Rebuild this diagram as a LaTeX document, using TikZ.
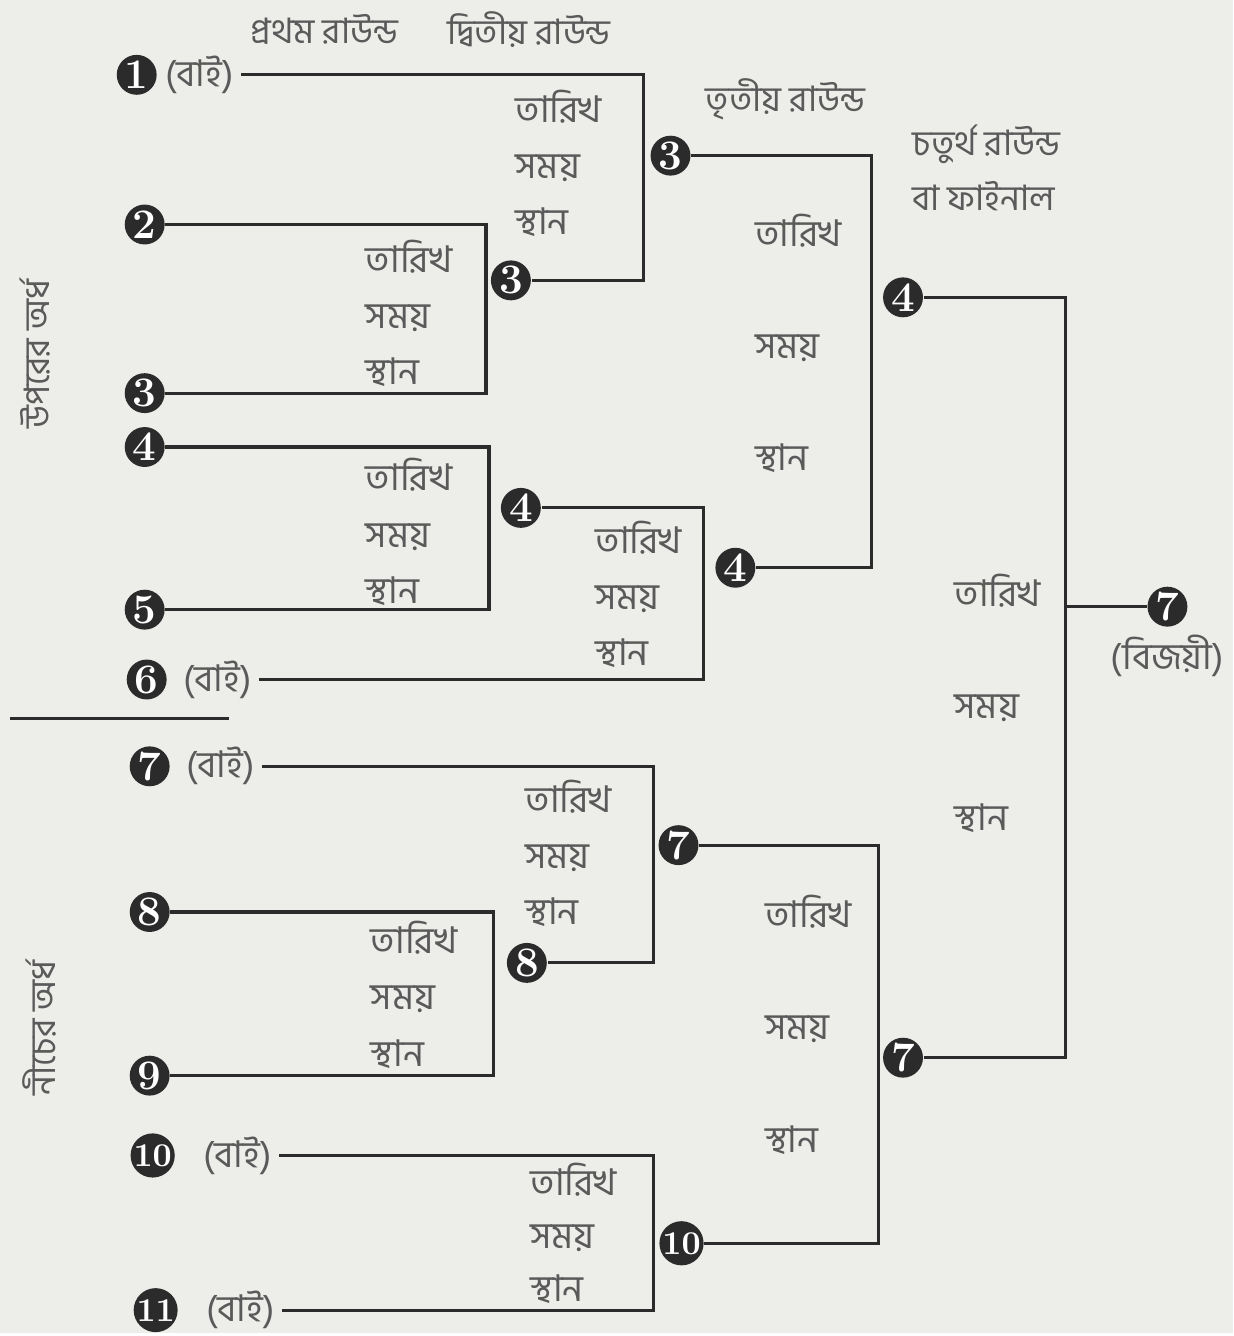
\documentclass[tikz,border=0pt]{standalone}
\usepackage{fontspec}
\newfontfamily\bn[Script=Bengali]{Hind Siliguri}
\usetikzlibrary{positioning,calc}
\definecolor{paper}{HTML}{EDEDEA}
\definecolor{ink}{HTML}{2B2B2B}
\definecolor{textgrey}{HTML}{5A5A5A}

\begin{document}
\begin{tikzpicture}[
    seed/.style={circle, fill=ink, text=white, inner sep=0pt, minimum size=0.40cm, font=\fontsize{12}{12}\selectfont\bfseries},
    seedwide/.style={seed, font=\fontsize{9.5}{9.5}\selectfont\bfseries},
    bye/.style={font=\bn\fontsize{10.5}{13}\selectfont, text=textgrey, inner sep=2pt},
    info/.style={font=\bn\fontsize{10.5}{16}\selectfont, text=textgrey, align=left},
    infowide/.style={font=\bn\fontsize{10.5}{32}\selectfont, text=textgrey, align=left},
    heading/.style={font=\bn\fontsize{10}{15.6}\selectfont, text=textgrey, align=left},
    bracket/.style={draw=ink, line width=0.9pt}
  ]
    % Paper
    \fill[paper] (0,0) rectangle (12.36,13.36);

    % Round headings
    \node[heading] (h1) at (3.25,13.06) {প্রথম রাউন্ড};
    \node[heading] (h2) at (5.30,13.06) {দ্বিতীয় রাউন্ড};
    \node[heading] (h3) at (7.87,12.36) {তৃতীয় রাউন্ড};
    \node[heading, anchor=west] (h4) at (9.02,11.68) {চতুর্থ রাউন্ড\\বা ফাইনাল};

    % Halves
    \node[heading, rotate=90] (upper) at (0.35,9.81) {উপরের অর্ধ};
    \node[heading, rotate=90] (lower) at (0.40,3.06) {নীচের অর্ধ};
    \coordinate (divL) at (0.10,6.16);
    \coordinate (divR) at (2.30,6.16);
    \draw[bracket] (divL) -- (divR);

    % First round entries
    \node[seed] (p1) at (1.37,12.61) {1};
    \node[bye, right=0pt of p1] (b1) {(বাই)};
    \node[seed] (p2) at (1.45,11.11) {2};
    \node[seed] (p3) at (1.45,9.42) {3};
    \node[seed] (p4) at (1.45,8.88) {4};
    \node[seed] (p5) at (1.45,7.25) {5};
    \node[seed] (p6) at (1.47,6.55) {6};
    \node[bye, right=0.08cm of p6] (b6) {(বাই)};
    \node[seed] (p7) at (1.50,5.68) {7};
    \node[bye, right=0.08cm of p7] (b7) {(বাই)};
    \node[seed] (p8) at (1.50,4.22) {8};
    \node[seed] (p9) at (1.50,2.58) {9};
    \node[seedwide] (p10) at (1.53,1.78) {10};
    \node[bye, right=0.2cm of p10] (b10) {(বাই)};
    \node[seedwide] (p11) at (1.56,0.23) {11};
    \node[bye, right=0.2cm of p11] (b11) {(বাই)};

    % Bar positions
    \coordinate (m23) at (4.87,0);
    \coordinate (m13) at (6.45,0);
    \coordinate (m45) at (4.90,0);
    \coordinate (m46) at (7.05,0);
    \coordinate (m34) at (8.73,0);
    \coordinate (m89) at (4.95,0);
    \coordinate (m78) at (6.55,0);
    \coordinate (m1011) at (6.55,0);
    \coordinate (m710) at (8.80,0);
    \coordinate (mfin) at (10.68,0);

    % Winners
    \node[seed] (w23) at (5.12,10.55) {3};
    \node[seed] (w13) at (6.72,11.80) {3};
    \node[seed] (w45) at (5.22,8.27) {4};
    \node[seed] (w46) at (7.37,7.67) {4};
    \node[seed] (w34) at (9.05,10.38) {4};
    \node[seed] (w89) at (5.28,3.71) {8};
    \node[seed] (w78) at (6.80,4.89) {7};
    \node[seedwide] (w1011) at (6.83,0.90) {10};
    \node[seed] (w710) at (9.05,2.76) {7};
    \node[seed] (champ) at (11.70,7.28) {7};
    \node[bye, below=0pt of champ] (champtext) {(বিজয়ী)};

    % Date, time, venue
    \node[info] (i23) at (4.10,10.22) {তারিখ\\সময়\\স্থান};
    \node[info] (i13) at (5.60,11.72) {তারিখ\\সময়\\স্থান};
    \node[info] (i45) at (4.10,8.03) {তারিখ\\সময়\\স্থান};
    \node[info] (i46) at (6.40,7.40) {তারিখ\\সময়\\স্থান};
    \node[infowide] (i34) at (8.00,9.92) {তারিখ\\সময়\\স্থান};
    \node[info] (i89) at (4.15,3.39) {তারিখ\\সময়\\স্থান};
    \node[info] (i78) at (5.70,4.81) {তারিখ\\সময়\\স্থান};
    \node[info, font=\bn\fontsize{10.5}{15}\selectfont] (i1011) at (5.75,1.00) {তারিখ\\সময়\\স্থান};
    \node[infowide] (i710) at (8.10,3.09) {তারিখ\\সময়\\স্থান};
    \node[infowide] (ifin) at (10.00,6.31) {তারিখ\\সময়\\স্থান};

    % Upper half
    \draw[bracket] (p2) -- (p2 -| m23) -- (p3 -| m23) -- (p3);
    \draw[bracket] (b1) -- (b1 -| m13) -- (w23 -| m13) -- (w23);
    \draw[bracket] (p4) -- (p4 -| m45) -- (p5 -| m45) -- (p5);
    \draw[bracket] (w45) -- (w45 -| m46) -- (b6 -| m46) -- (b6);
    \draw[bracket] (w13) -- (w13 -| m34) -- (w46 -| m34) -- (w46);

    % Lower half
    \draw[bracket] (p8) -- (p8 -| m89) -- (p9 -| m89) -- (p9);
    \draw[bracket] (b7) -- (b7 -| m78) -- (w89 -| m78) -- (w89);
    \draw[bracket] (b10) -- (b10 -| m1011) -- (b11 -| m1011) -- (b11);
    \draw[bracket] (w78) -- (w78 -| m710) -- (w1011 -| m710) -- (w1011);

    % Final
    \draw[bracket] (w34) -- (w34 -| mfin) -- (w710 -| mfin) -- (w710);
    \draw[bracket] (champ -| mfin) -- (champ);
  \end{tikzpicture}
\end{document}
